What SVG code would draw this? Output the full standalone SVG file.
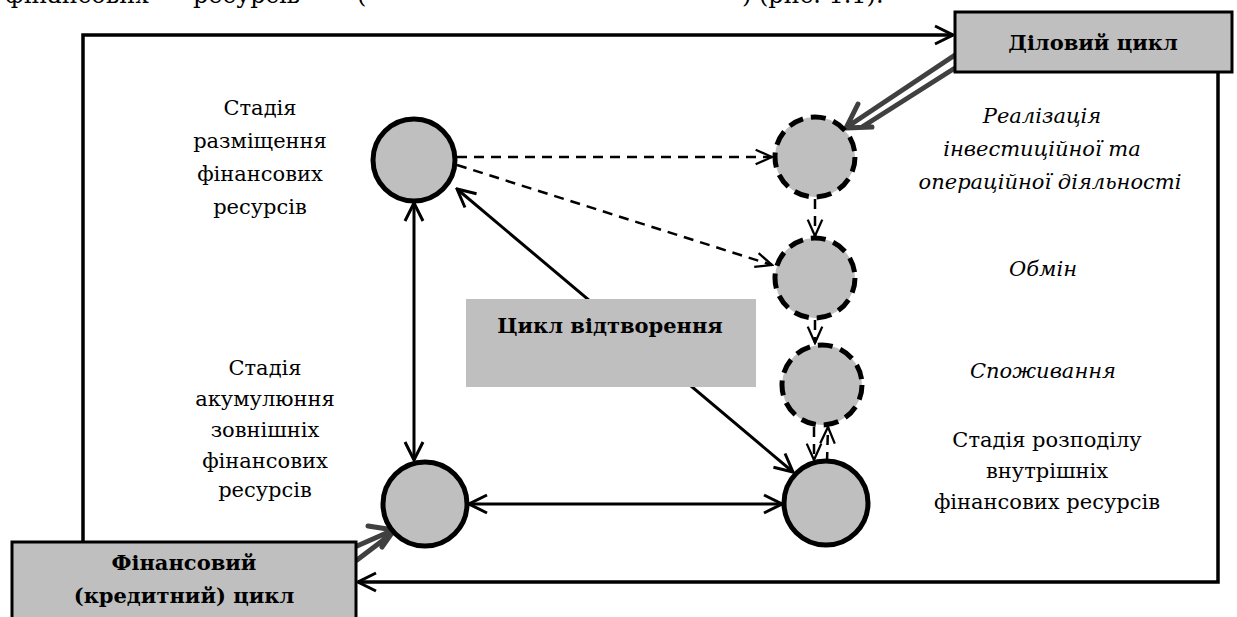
<svg xmlns="http://www.w3.org/2000/svg" width="1237" height="617" viewBox="0 0 1237 617">
  <style>
    text { font-family: "DejaVu Serif", serif; fill: #000; }
    .lbl { font-size: 21px; text-anchor: middle; }
    .it { font-size: 21px; font-style: italic; text-anchor: middle; }
    .bold { font-size: 21px; font-weight: bold; text-anchor: middle; }
    .box { fill: #bfbfbf; stroke: #000; stroke-width: 3; }
    .node-solid { fill: #bfbfbf; stroke: #000; stroke-width: 5; }
    .node-dash { fill: #bfbfbf; stroke: #000; stroke-width: 5; stroke-dasharray: 15 8; }
    .frame { fill: none; stroke: #000; stroke-width: 3.5; }
    .link { fill: none; stroke: #000; stroke-width: 3; }
    .dlink { fill: none; stroke: #000; stroke-width: 2.5; stroke-dasharray: 10 7; }
    .grey { fill: none; stroke: #404040; stroke-width: 5; stroke-linecap: round; stroke-linejoin: round; }
  </style>
  <defs>
    <marker id="head" viewBox="0 0 22 22" refX="20" refY="11" markerWidth="22" markerHeight="22" markerUnits="userSpaceOnUse" orient="auto-start-reverse">
      <path d="M2,2 L20,11 L2,20" fill="none" stroke="#000" stroke-width="3"/>
    </marker>
    <marker id="headThin" viewBox="0 0 22 22" refX="20" refY="11" markerWidth="20" markerHeight="20" markerUnits="userSpaceOnUse" orient="auto-start-reverse">
      <path d="M2,3 L20,11 L2,19" fill="none" stroke="#000" stroke-width="2.5"/>
    </marker>
  </defs>

  <!-- running text line cut at the top edge -->
  <g id="caption" font-size="24">
    <text x="5" y="3">фінансових</text>
    <text x="193" y="3">ресурсів</text>
    <text x="357" y="3">(</text>
    <text x="742" y="3">) (рис. 1.1).</text>
  </g>

  <!-- outer frame and connectors -->
  <g id="connectors">
    <polyline class="frame" points="83,542 83,35 953,35" marker-end="url(#head)"/>
    <polyline class="frame" points="1218,72 1218,582 358,582" stroke-width="4" marker-end="url(#head)"/>

    <line class="link" x1="414" y1="203" x2="414" y2="460" marker-start="url(#head)" marker-end="url(#head)"/>
    <line class="link" x1="469" y1="504" x2="782" y2="504" marker-start="url(#head)" marker-end="url(#head)"/>
    <line class="link" x1="457" y1="189" x2="793" y2="472" marker-start="url(#head)" marker-end="url(#head)"/>

    <line class="dlink" x1="457" y1="157" x2="772" y2="157" marker-end="url(#headThin)"/>
    <line class="dlink" x1="457" y1="165" x2="772" y2="265" marker-end="url(#headThin)"/>
    <line class="dlink" x1="815" y1="199" x2="815" y2="236" marker-end="url(#headThin)"/>
    <line class="dlink" x1="815" y1="320" x2="815" y2="343" marker-end="url(#headThin)"/>
    <line class="dlink" x1="814" y1="427" x2="814" y2="460" marker-end="url(#headThin)"/>
    <line class="dlink" x1="827" y1="462" x2="828" y2="427" marker-end="url(#headThin)"/>

    <!-- double-shaft grey arrows from the cycle boxes -->
    <path class="grey" d="M955,55 L850,125 M955,68 L862,127 M858,104 L846,128 L872,127"/>
    <path class="grey" d="M357,546 L391,531 M357,560 L386,538 M368,526 L394,530 L382,547"/>
  </g>

  <!-- reproduction cycle box (drawn over the diagonal) -->
  <g id="reproduction">
    <rect x="466" y="299" width="290" height="88" fill="#bfbfbf"/>
    <text class="bold" x="610" y="333">Цикл відтворення</text>
  </g>

  <g id="business-cycle">
    <rect class="box" x="955" y="12" width="277" height="60"/>
    <text class="bold" x="1093" y="50">Діловий цикл</text>
  </g>

  <g id="financial-cycle">
    <rect class="box" x="12" y="542" width="344" height="90"/>
    <text class="bold" x="184" y="570">Фінансовий</text>
    <text class="bold" x="184" y="603">(кредитний) цикл</text>
  </g>

  <g id="stage-placement">
    <circle class="node-solid" cx="414" cy="160" r="41"/>
    <text class="lbl" x="260" y="115">Стадія</text>
    <text class="lbl" x="260" y="148">разміщення</text>
    <text class="lbl" x="260" y="181">фінансових</text>
    <text class="lbl" x="260" y="214">ресурсів</text>
  </g>

  <g id="stage-realisation">
    <circle class="node-dash" cx="815" cy="157" r="40"/>
    <text class="it" x="1042" y="123">Реалізація</text>
    <text class="it" x="1042" y="156">інвестиційної та</text>
    <text class="it" x="1050" y="189">операційної діяльності</text>
  </g>

  <g id="stage-exchange">
    <circle class="node-dash" cx="815" cy="278" r="40"/>
    <text class="it" x="1043" y="276">Обмін</text>
  </g>

  <g id="stage-consumption">
    <circle class="node-dash" cx="822" cy="385" r="40"/>
    <text class="it" x="1043" y="378">Споживання</text>
  </g>

  <g id="stage-distribution">
    <circle class="node-solid" cx="826" cy="503" r="42"/>
    <text class="lbl" x="1047" y="447">Стадія розподілу</text>
    <text class="lbl" x="1047" y="478">внутрішніх</text>
    <text class="lbl" x="1047" y="509">фінансових ресурсів</text>
  </g>

  <g id="stage-accumulation">
    <circle class="node-solid" cx="425" cy="504" r="42"/>
    <text class="lbl" x="265" y="375">Стадія</text>
    <text class="lbl" x="265" y="406">акумулюння</text>
    <text class="lbl" x="265" y="437">зовнішніх</text>
    <text class="lbl" x="265" y="468">фінансових</text>
    <text class="lbl" x="265" y="497">ресурсів</text>
  </g>
</svg>
